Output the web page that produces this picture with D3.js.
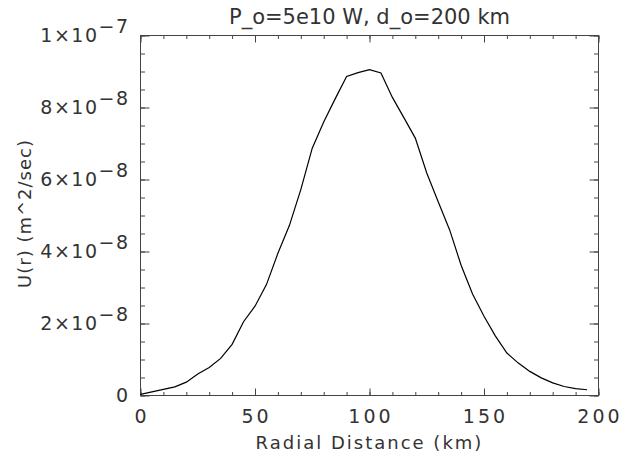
<!DOCTYPE html>
<html>
<head>
<meta charset="utf-8">
<script src="https://cdn.jsdelivr.net/npm/d3@7"></script>
<style>
  body { margin: 0; background: #fff; }
  text { font-family: "DejaVu Sans", sans-serif; fill: #333; }
</style>
</head>
<body>
<svg id="chart"></svg>
<script>
// radial distance (km) and U(r) values (units of 1e-8 m^2/sec)
var radius = [0,5,10,15,20,25,30,35,40,45,50,55,60,65,70,75,80,85,90,95,
              100,105,110,115,120,125,130,135,140,145,150,155,160,165,170,175,180,185,190,195];
var uValues = [0.03,0.10,0.17,0.24,0.37,0.60,0.78,1.03,1.42,2.05,2.48,3.08,3.95,4.72,5.72,6.87,7.60,8.24,8.86,8.97,
               9.05,8.96,8.28,7.72,7.15,6.18,5.38,4.60,3.62,2.82,2.20,1.65,1.18,0.90,0.67,0.49,0.35,0.25,0.19,0.16];
var xTicks = [0,50,100,150,200];
var yTicks = [0,2,4,6,8,10];   // in 1e-8
var yLabels = [["0",""],["2×10","−8"],["4×10","−8"],["6×10","−8"],["8×10","−8"],["1×10","−7"]];
var title = "P_o=5e10 W, d_o=200 km";
var xTitle = "Radial Distance (km)";
var yTitle = "U(r) (m^2/sec)";

var svgWidth = 639, svgHeight = 464;
var plotLeft = 140.5, plotRight = 598.5, plotTop = 35.5, plotBottom = 395.5;

var svg = d3.select('#chart')
    .attr('width', svgWidth)
    .attr('height', svgHeight);

var x = d3.scaleLinear().domain([0,200]).range([plotLeft,plotRight]);
var y = d3.scaleLinear().domain([0,10]).range([plotBottom,plotTop]);

var minorX = d3.range(0,201,10);
var minorY = d3.range(0,10.01,0.5);

function styleAxis(g) {
  g.selectAll('line').attr('stroke','#444');
  g.select('.domain').remove();
}

function ticks(xLen, yLen, xVals, yVals) {
  svg.append('g').attr('transform','translate(0,'+plotBottom+')')
     .call(d3.axisTop(x).tickValues(xVals).tickSize(xLen).tickFormat(''))
     .call(styleAxis);
  svg.append('g').attr('transform','translate(0,'+plotTop+')')
     .call(d3.axisBottom(x).tickValues(xVals).tickSize(xLen).tickFormat(''))
     .call(styleAxis);
  svg.append('g').attr('transform','translate('+plotLeft+',0)')
     .call(d3.axisRight(y).tickValues(yVals).tickSize(yLen).tickFormat(''))
     .call(styleAxis);
  svg.append('g').attr('transform','translate('+plotRight+',0)')
     .call(d3.axisLeft(y).tickValues(yVals).tickSize(yLen).tickFormat(''))
     .call(styleAxis);
}

ticks(3.5, 4.5, minorX, minorY);   // minor
ticks(7, 9, xTicks, yTicks);        // major

// frame
svg.append('rect')
   .attr('x',plotLeft).attr('y',plotTop)
   .attr('width',plotRight-plotLeft).attr('height',plotBottom-plotTop)
   .attr('fill','none').attr('stroke','#444').attr('stroke-width',1);

// x tick labels
svg.selectAll('.xlab')
   .data(xTicks)
   .enter()
   .append('text')
   .attr('class','xlab')
   .attr('x',function(d){ return x(d) + 1.5; })
   .attr('y',plotBottom+27)
   .attr('text-anchor','middle')
   .style('font-size','19px')
   .style('letter-spacing','3px')
   .text(function(d){ return d; });

// y tick labels with superscript exponents
var ylab = svg.selectAll('.ylab')
   .data(yTicks)
   .enter()
   .append('text')
   .attr('class','ylab')
   .attr('x',plotLeft-11)
   .attr('y',function(d){ return y(d)+6; })
   .attr('text-anchor','end')
   .style('font-size','19px')
   .style('letter-spacing','1.5px');
ylab.append('tspan').text(function(d,i){ return yLabels[i][0]; });
ylab.append('tspan').attr('dy',-9).text(function(d,i){ return yLabels[i][1]; });

// curve
var line = d3.line()
   .x(function(d,i){ return x(radius[i]); })
   .y(function(d){ return y(d); });

svg.append('path')
   .datum(uValues)
   .attr('d',line)
   .attr('fill','none')
   .attr('stroke','#000')
   .attr('stroke-width',1.2);

// titles
svg.append('text')
   .attr('x',(plotLeft+plotRight)/2).attr('y',24)
   .attr('text-anchor','middle')
   .style('font-size','21px')
   .text(title);

svg.append('text')
   .attr('x',(plotLeft+plotRight)/2).attr('y',449)
   .attr('text-anchor','middle')
   .style('font-size','18px')
   .style('letter-spacing','2px')
   .text(xTitle);

svg.append('text')
   .attr('transform','translate(31,'+((plotTop+plotBottom)/2 - 2)+') rotate(-90)')
   .attr('text-anchor','middle')
   .style('font-size','18px')
   .style('letter-spacing','1px')
   .text(yTitle);
</script>
</body>
</html>
